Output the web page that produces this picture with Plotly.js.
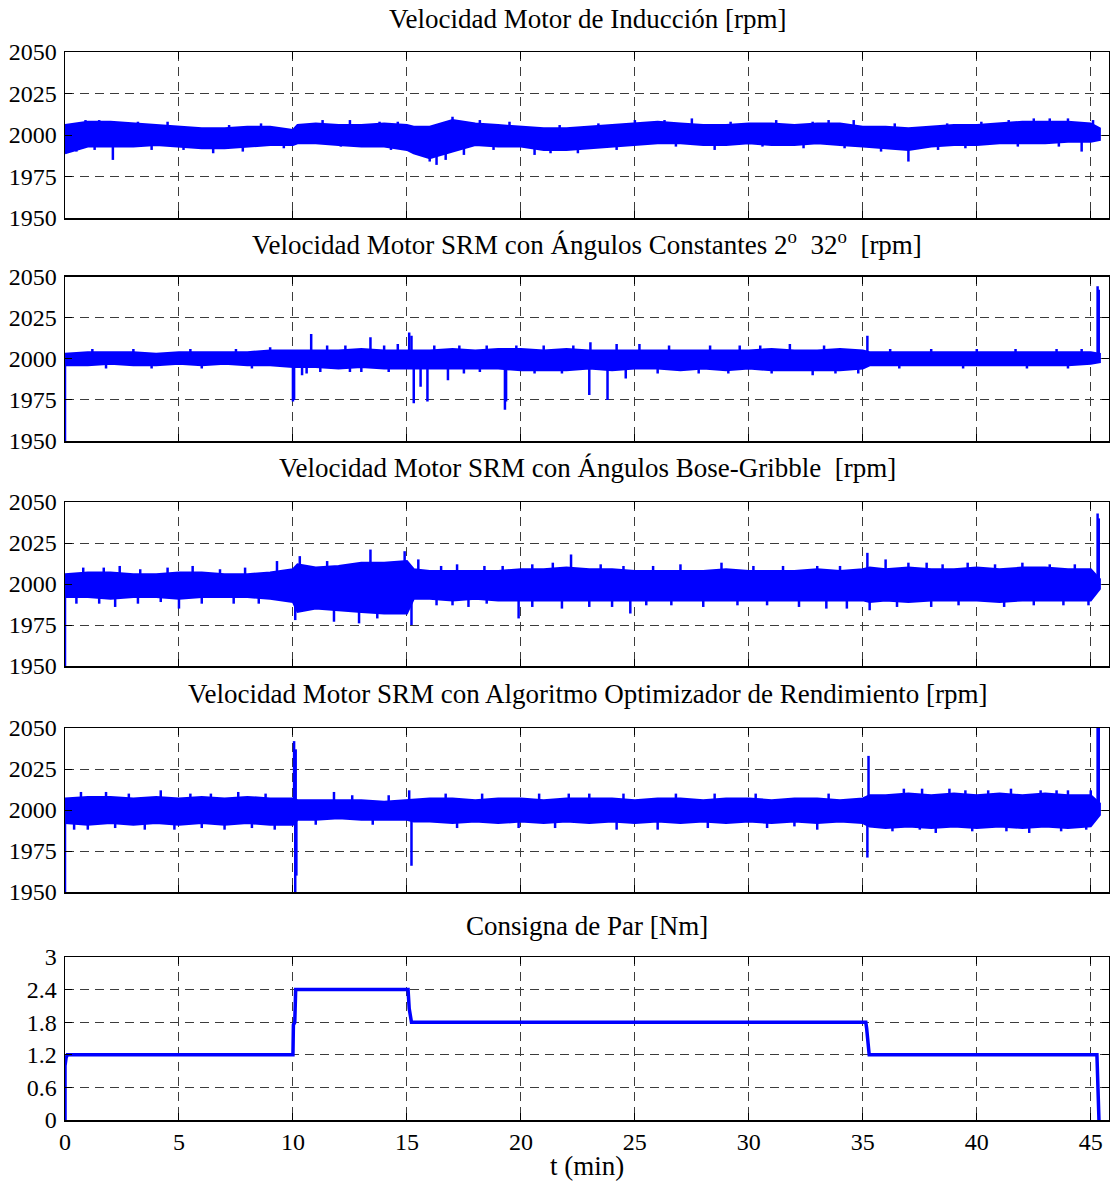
<!DOCTYPE html>
<html>
<head>
<meta charset="utf-8">
<script src="https://cdn.plot.ly/plotly-3.0.1.min.js"></script>
<style>html,body{margin:0;padding:0;background:#fff}#chart{width:1110px;height:1184px}</style>
</head>
<body>
<div id="chart"></div>
<script>
// time grid (min) for the envelope of the speed signals
const tGrid = [0,1,2,3,4,5,6,7,8,9,10,10.2,11,12,13,14,15,15.3,16,17,18,19,20,21,22,23,24,25,26,27,28,29,30,31,32,33,34,35,35.3,36,37,38,39,40,41,42,43,44,45,45.4];

// Velocidad Motor de Inducción: upper / lower envelope (rpm)
const imHi = [2006,2008,2008,2007,2006,2005,2004,2004,2005,2005,2003,2006,2007,2006,2006,2007,2006,2005,2005,2009,2007,2006,2005,2004,2004,2005,2006,2007,2008,2007,2006,2006,2007,2007,2006,2007,2007,2005,2005,2005,2004,2005,2006,2006,2007,2008,2008,2008,2007,2004];
const imLo = [1989,1993,1993,1993,1994,1993,1992,1992,1993,1994,1994,1995,1995,1994,1993,1993,1991,1989,1986,1990,1994,1993,1993,1991,1991,1992,1993,1994,1995,1995,1994,1994,1995,1994,1994,1995,1994,1993,1993,1992,1991,1993,1994,1994,1995,1995,1995,1996,1996,1997];
const imSpikeT = [2.1,6.5,16.0,16.3,16.7,20.6,37.0,44.6,28.5,0.9,17.0,12.5,27.5,33.5,42.5,44.0,25.0,
  1.5,3.2,4.5,7.2,8.6,11.3,13.8,14.6,18.2,19.5,21.7,23.4,26.3,29.2,31.2,32.8,34.6,36.4,38.7,40.2,41.4,43.2,45.1,
  0.5,1.3,3.8,5.2,7.8,9.6,12.1,14.3,15.5,17.5,18.8,21.3,22.5,24.2,26.8,30.6,32.4,34.2,35.8,38.3,39.5,41.8,43.6];
const imSpikeV = [1985,1989,1984,1982,1985,1988,1984,1990,1991,2009,2011,2009,2010,2009,2010,2010,2009,
  2009,2008,2008,2006,2007,2009,2008,2008,2009,2008,2006,2007,2009,2008,2009,2008,2009,2007,2007,2008,2009,2010,2009,
  1990,1991,1991,1991,1990,1992,1993,1991,1988,1988,1991,1989,1989,1991,1993,1993,1992,1992,1990,1991,1992,1993,1993];

// Velocidad Motor SRM con Ángulos Constantes
const constHi = [2003,2004,2004,2004,2003,2004,2004,2004,2004,2005,2005,2005,2005,2005,2006,2005,2005,2005,2005,2006,2005,2006,2006,2005,2006,2005,2005,2005,2005,2005,2005,2005,2005,2006,2005,2005,2006,2005,2004,2004,2004,2004,2004,2004,2004,2004,2004,2004,2004,2003];
const constLo = [1996,1996,1997,1996,1996,1997,1996,1997,1996,1996,1995,1995,1995,1994,1995,1994,1994,1994,1994,1994,1994,1994,1993,1993,1993,1994,1993,1994,1994,1993,1994,1993,1994,1993,1993,1993,1993,1994,1996,1996,1996,1996,1996,1996,1996,1996,1996,1996,1997,1998];
const constSpikeT = [0.0,10.0,10.05,10.4,15.3,15.6,15.9,16.8,19.3,19.35,23.0,23.8,24.6,34.8,10.6,13.0,10.8,13.4,14.0,15.1,15.2,17.3,19.8,23.05,25.2,35.2,30.5,45.3,45.35,
  1.2,3.0,5.5,7.5,9.0,11.5,12.3,14.6,16.2,18.5,21.0,22.3,24.2,26.5,28.3,29.6,31.8,33.3,36.2,38.0,40.0,41.7,43.5,44.6,
  1.8,3.8,6.0,8.2,11.2,12.5,14.2,17.5,18.2,20.6,21.8,26.0,27.8,29.1,31.0,32.8,33.8,36.6,39.4,42.2,44.0];
const constSpikeV = [1950,1974,1975,1990,1973,1983,1974,1987,1969,1974,1978,1975,1988,1991,1991,1992,2015,2013,2008,2016,2014,2008,2008,2010,2009,2014,2008,2044,2042,
  2006,2006,2006,2006,2007,2008,2008,2009,2008,2008,2008,2008,2009,2008,2008,2008,2009,2008,2006,2006,2006,2006,2006,2006,
  1994,1994,1994,1994,1992,1992,1992,1991,1992,1991,1991,1991,1991,1991,1991,1990,1991,1994,1994,1994,1994];

// Velocidad Motor SRM con Ángulos Bose-Gribble
const bgHi = [2006,2007,2007,2006,2006,2007,2007,2006,2006,2007,2009,2012,2010,2011,2013,2013,2014,2009,2008,2008,2008,2008,2009,2009,2010,2009,2009,2008,2008,2008,2008,2009,2008,2008,2008,2009,2008,2009,2010,2009,2010,2009,2009,2010,2009,2010,2010,2009,2009,2003];
const bgLo = [1992,1992,1991,1992,1992,1991,1992,1992,1992,1991,1989,1983,1985,1984,1983,1982,1982,1991,1991,1990,1991,1990,1990,1990,1990,1990,1990,1990,1990,1990,1990,1990,1990,1990,1990,1990,1990,1990,1989,1990,1989,1990,1990,1990,1989,1990,1990,1990,1990,1997];
const bgSpikeT = [0,2.2,5.0,6.0,10.1,11.8,12.9,13.7,15.2,17.7,19.9,21.8,24.0,24.8,32.2,33.4,34.3,35.3,44.9,2.4,5.6,9.3,10.3,11.5,13.4,14.9,15.5,21.4,22.2,28.8,35.2,36.0,37.0,39.6,42.0,45.3,45.35,
  0.8,1.7,3.3,4.5,6.8,7.9,16.5,17.2,18.4,19.2,20.5,23.5,24.5,25.8,27.0,30.2,31.5,33.0,34.0,37.8,38.5,40.8,43.2,44.3,
  0.5,1.5,3.2,4.2,7.4,8.5,16.3,17.0,18.5,20.5,23.0,25.5,26.6,28.0,29.5,30.8,36.5,38.0,39.2,41.2,42.5,43.8];
const bgSpikeV = [1950,1986,1985,1988,1978,1977,1976,1979,1975,1986,1979,1985,1986,1982,1986,1985,1985,1984,1987,2011,2011,2014,2017,2014,2021,2020,2015,2013,2018,2013,2019,2015,2013,2013,2013,2043,2040,
  2010,2010,2009,2010,2009,2010,2011,2012,2011,2011,2012,2012,2011,2011,2012,2011,2011,2011,2011,2013,2012,2012,2012,2012,
  1988,1988,1988,1989,1988,1988,1987,1987,1988,1986,1986,1987,1987,1986,1987,1987,1986,1986,1987,1986,1987,1987];

// Velocidad Motor SRM con Algoritmo Optimizador de Rendimiento
const optHi = [2007,2008,2008,2007,2008,2007,2008,2007,2008,2007,2007,2006,2006,2006,2006,2005,2006,2006,2007,2007,2006,2007,2007,2006,2007,2007,2007,2006,2007,2007,2006,2007,2007,2006,2007,2007,2006,2007,2009,2009,2010,2009,2010,2009,2010,2009,2010,2009,2009,2004];
const optLo = [1992,1991,1992,1991,1992,1991,1992,1991,1992,1991,1991,1994,1994,1995,1994,1994,1994,1993,1993,1992,1993,1992,1993,1992,1993,1992,1993,1992,1993,1992,1993,1992,1993,1992,1993,1992,1993,1992,1990,1989,1990,1989,1990,1989,1990,1989,1990,1989,1990,1997];
const optSpikeT = [0,1.0,3.5,9.2,10.1,10.15,15.2,19.9,26.0,35.2,32.0,37.5,44.8,4.2,10.05,10.12,11.8,15.1,23.0,35.25,36.8,38.8,40.5,42.8,44.0,45.3,45.35,
  0.7,1.8,2.8,5.5,6.4,7.6,8.8,12.6,14.2,16.7,18.3,20.8,22.1,24.5,26.8,28.5,30.3,33.5,37.6,39.5,41.5,43.5,45.0,
  0.4,2.2,4.8,6.0,7.0,8.2,11.0,13.5,17.2,21.5,24.2,28.2,30.8,33.0,36.3,38.2,39.8,41.3,42.3,43.7];
const optSpikeV = [1950,1988,1988,1988,1950,1960,1966,1989,1988,1971,1990,1988,1988,2012,2042,2037,2011,2012,2010,2033,2013,2013,2012,2012,2012,2060,2060,
  2011,2011,2010,2010,2010,2011,2010,2009,2009,2010,2010,2010,2010,2010,2010,2010,2010,2010,2013,2012,2013,2012,2012,
  1988,1989,1988,1989,1988,1989,1991,1991,1989,1989,1988,1989,1989,1988,1987,1986,1987,1987,1986,1987];

// Consigna de Par [Nm]
const torqueT = [0,0,0.05,0.1,10.0,10.02,10.08,10.12,15.05,15.1,15.2,35.13,35.17,35.28,45.27,45.31,45.33,45.36];
const torqueV = [0,1.0,1.15,1.2,1.2,1.75,1.8,2.4,2.4,2.05,1.8,1.8,1.68,1.2,1.2,0.6,0.5,0];

const titles = [
  'Velocidad Motor de Inducción [rpm]',
  'Velocidad Motor SRM con Ángulos Constantes 2<sup>o</sup>  32<sup>o</sup>  [rpm]',
  'Velocidad Motor SRM con Ángulos Bose-Gribble  [rpm]',
  'Velocidad Motor SRM con Algoritmo Optimizador de Rendimiento [rpm]',
  'Consigna de Par [Nm]'
];
const xTitle = 't (min)';
const xTicks = [0,5,10,15,20,25,30,35,40,45];
const rpmTicks = [1950,1975,2000,2025,2050];
const torqueTicks = [0,0.6,1.2,1.8,2.4,3];
const torqueTickText = ['0','0.6','1.2','1.8','2.4','3'];

const BLUE = '#0000ff';
const FONT = 'Liberation Serif';
const H = 1184;
// plot areas (pixel top, bottom)
const boxes = [[52,218],[276.5,441],[502,666],[728,892],[957,1120]];
const titleY = [19, 243, 468, 694, 926];

function band(hi, lo, ax){
  const x = tGrid.concat(tGrid.slice().reverse());
  const y = hi.concat(lo.slice().reverse());
  return {x:x, y:y, type:'scatter', mode:'lines', fill:'toself', fillcolor:BLUE,
    line:{color:BLUE, width:2}, xaxis:'x'+ax, yaxis:'y'+ax, hoverinfo:'skip', showlegend:false};
}
function spikes(ts, vs, ax){
  const x=[], y=[];
  ts.forEach((t,i)=>{ x.push(t,t,null); y.push(2000,vs[i],null); });
  return {x:x, y:y, type:'scatter', mode:'lines', line:{color:BLUE, width:2.5},
    xaxis:'x'+ax, yaxis:'y'+ax, hoverinfo:'skip', showlegend:false, connectgaps:false};
}

const data = [
  band(imHi, imLo, ''), spikes(imSpikeT, imSpikeV, ''),
  band(constHi, constLo, '2'), spikes(constSpikeT, constSpikeV, '2'),
  band(bgHi, bgLo, '3'), spikes(bgSpikeT, bgSpikeV, '3'),
  band(optHi, optLo, '4'), spikes(optSpikeT, optSpikeV, '4'),
  {x:torqueT, y:torqueV, type:'scatter', mode:'lines', line:{color:BLUE, width:3.5},
   xaxis:'x5', yaxis:'y5', showlegend:false}
];

const layout = {
  width:1110, height:1184,
  margin:{l:65, r:1, t:0, b:0},
  paper_bgcolor:'#fff', plot_bgcolor:'#fff',
  font:{family:FONT, size:24, color:'#000'},
  showlegend:false,
  annotations:[]
};

for (let i=0;i<5;i++){
  const k = i===0 ? '' : String(i+1);
  const [top,bot] = boxes[i];
  layout['xaxis'+k] = {
    domain:[0,1], range:[0,45.8], anchor:'y'+k,
    tickvals:xTicks, showticklabels: i===4,
    ticks:'inside', ticklen:7, tickwidth:1, tickcolor:'#000',
    showline:true, linecolor:'#000', linewidth:1.5, mirror:'ticks',
    showgrid:true, gridcolor:'#3c3c3c', gridwidth:1, griddash:'9px,6px',
    zeroline:false, tickfont:{family:FONT, size:24, color:'#000'}
  };
  const yax = {
    domain:[1-bot/H, 1-top/H], anchor:'x'+k,
    ticks:'inside', ticklen:7, tickwidth:1, tickcolor:'#000',
    showline:true, linecolor:'#000', linewidth:1.5, mirror:'ticks',
    showgrid:true, gridcolor:'#3c3c3c', gridwidth:1, griddash:'9px,6px',
    zeroline:false, ticklabelstandoff:2,
    tickfont:{family:FONT, size:24, color:'#000'}
  };
  if (i<4){ yax.range=[1950,2050]; yax.tickvals=rpmTicks; }
  else { yax.range=[0,3]; yax.tickvals=torqueTicks; yax.ticktext=torqueTickText; }
  layout['yaxis'+k] = yax;
  layout.annotations.push({
    text:titles[i], xref:'paper', yref:'paper', x:0.5, y:1-titleY[i]/H,
    xanchor:'center', yanchor:'middle', showarrow:false,
    font:{family:FONT, size:27, color:'#000'}
  });
}
layout.annotations.push({
  text:xTitle, xref:'paper', yref:'paper', x:0.5, y:1-1166/H,
  xanchor:'center', yanchor:'middle', showarrow:false,
  font:{family:FONT, size:27, color:'#000'}
});

Plotly.newPlot('chart', data, layout, {displayModeBar:false, staticPlot:true});
</script>
</body>
</html>
